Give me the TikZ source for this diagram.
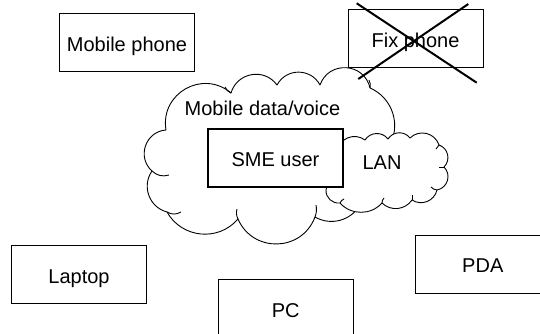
\documentclass[tikz,border=0pt]{standalone}
\usepackage{fontspec}
\setmainfont{Liberation Sans}
\begin{document}
\begin{tikzpicture}[x=1pt,y=-1pt,
  every node/.style={font=\fontsize{20}{24}\selectfont},
  box/.style={draw, line width=1pt, fill=white, inner sep=0pt,
    minimum width=135pt, minimum height=58pt, text height=17.2pt, text depth=0pt},
  thickbox/.style={box, line width=2pt},
  txt/.style={anchor=base, inner sep=0pt},
  cloudline/.style={draw, fill=white, line width=0.9pt, line join=round},
  hookline/.style={line width=0.9pt},
  lobe/.style={bend left=#1,
    /utils/exec={\pgfmathsetmacro\lobeloose{0.8514/(cos(#1/2))^2}},
    looseness/.expanded={\lobeloose}},
  crossline/.style={line width=2pt}
]
\useasboundingbox (0,0) rectangle (540,334);
\clip (0,0) rectangle (540,334);
\fill[white] (0,0) rectangle (540,334);

% large cloud: mobile data/voice network
\path[cloudline] (166,130) to[lobe=70] (231,93) to[lobe=64] (277,85)
  to[lobe=62] (320,85) to[lobe=74] (370,88) to[lobe=50] (388,148)
  to[lobe=20] (360,205) to[lobe=45] (315,217) to[lobe=68] (238,219)
  to[lobe=55] (167,212) to[lobe=55] (152,171) to[lobe=67] (166,130) -- cycle;
% inner hooks of the large cloud
\draw[hookline] (152,171) to[bend right=30] (169,175);
\draw[hookline] (167,212) to[bend right=30] (181,212);
\draw[hookline] (238,219) to[bend left=20] (237,209);
\draw[hookline] (315,217) to[bend right=15] (316,205);
\draw[hookline] (231,93) to[bend left=20] (225,87);
\draw[hookline] (370,88) to[bend right=20] (369,80);

% small cloud: LAN
\path[cloudline] (337,152) to[lobe=60] (365,140) to[lobe=55] (388,139)
  to[lobe=55] (410,138) to[lobe=58] (439,145) to[lobe=58] (444,167)
  to[lobe=62] (437,190) to[lobe=55] (412,200) to[lobe=50] (382,203)
  to[lobe=48] (340,203) to[lobe=50] (326,190) to[lobe=30] (333,180) -- cycle;
% inner hooks of the LAN cloud
\draw[hookline] (439,145) to[bend left=20] (436,149);
\draw[hookline] (444,167) to[bend right=20] (439,167);
\draw[hookline] (437,190) to[bend left=20] (431,187);
\draw[hookline] (412,200) to[bend left=20] (412,195);
\draw[hookline] (382,203) to[bend left=20] (384,198);
\draw[hookline] (340,203) to[bend left=20] (344,199);

% user in the middle and the cloud labels
\node[thickbox] (sme) at (275.5,158) {SME user};
\node[txt] (mdv) at (262.5,116) {Mobile data/voice};
\node[txt] (lan) at (382,169.3) {LAN};

% terminals around the clouds
\node[box] (mobile) at (127,43) {Mobile phone};
\node[box] (fix) at (415.5,38.5) {Fix phone};
\node[box] (laptop) at (79,274.5) {Laptop};
\node[box] (pc) at (285.7,308.5) {PC};
\node[box] (pda) at (482.8,264) {PDA};

% fixed phone crossed out
\coordinate (xa1) at (356.7,3.3);
\coordinate (xb1) at (476.7,82.7);
\coordinate (xa2) at (468.3,4);
\coordinate (xb2) at (358.3,79);
\draw[crossline] (xa1) -- (xb1);
\draw[crossline] (xa2) -- (xb2);
\end{tikzpicture}
\end{document}
